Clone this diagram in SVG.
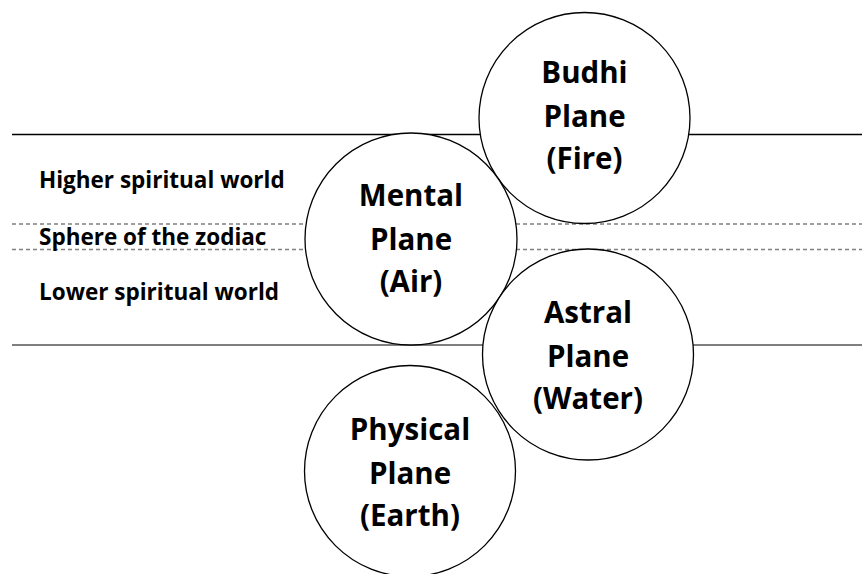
<svg xmlns="http://www.w3.org/2000/svg" width="862" height="574" viewBox="0 0 862 574">
<style>
.solid{stroke:#000;stroke-width:1.3;fill:none}
.solid2{stroke:#555;stroke-width:1.5;fill:none}
.dash{stroke:#808080;stroke-width:1.5;stroke-dasharray:4 3;fill:none}
.c{fill:#fff;stroke:#000;stroke-width:1.3}
.big{font-family:"Open Sans","Liberation Sans",sans-serif;font-weight:700;font-size:29.5px;fill:#000;text-anchor:middle}
.lbl{font-family:"Open Sans","Liberation Sans",sans-serif;font-weight:700;font-size:22.5px;fill:#000}
</style>
<rect width="862" height="574" fill="#fff"/>
<g id="connectors">
<line class="solid" x1="12" y1="134.5" x2="862" y2="134.5"/>
<line class="dash" x1="12" y1="224" x2="862" y2="224"/>
<line class="dash" x1="12" y1="249.5" x2="862" y2="249.5"/>
<line class="solid2" x1="12" y1="345" x2="862" y2="345"/>
</g>
<g id="labels">
<text class="lbl" x="39" y="188">Higher spiritual world</text>
<text class="lbl" x="39" y="245">Sphere of the zodiac</text>
<text class="lbl" x="39" y="300">Lower spiritual world</text>
</g>
<g id="budhi">
<circle class="c" cx="584.5" cy="118" r="105.5"/>
<text class="big" x="584.5" y="83">Budhi</text>
<text class="big" x="584.5" y="127">Plane</text>
<text class="big" x="584.5" y="169">(Fire)</text>
</g>
<g id="mental">
<circle class="c" cx="411" cy="239" r="106"/>
<text class="big" x="411" y="206">Mental</text>
<text class="big" x="411" y="250">Plane</text>
<text class="big" x="411" y="292">(Air)</text>
</g>
<g id="astral">
<circle class="c" cx="588" cy="354.5" r="105.5"/>
<text class="big" x="588" y="323">Astral</text>
<text class="big" x="588" y="367">Plane</text>
<text class="big" x="588" y="409">(Water)</text>
</g>
<g id="physical">
<circle class="c" cx="410" cy="471" r="105.5"/>
<text class="big" x="410" y="440">Physical</text>
<text class="big" x="410" y="484">Plane</text>
<text class="big" x="410" y="526">(Earth)</text>
</g>
</svg>
